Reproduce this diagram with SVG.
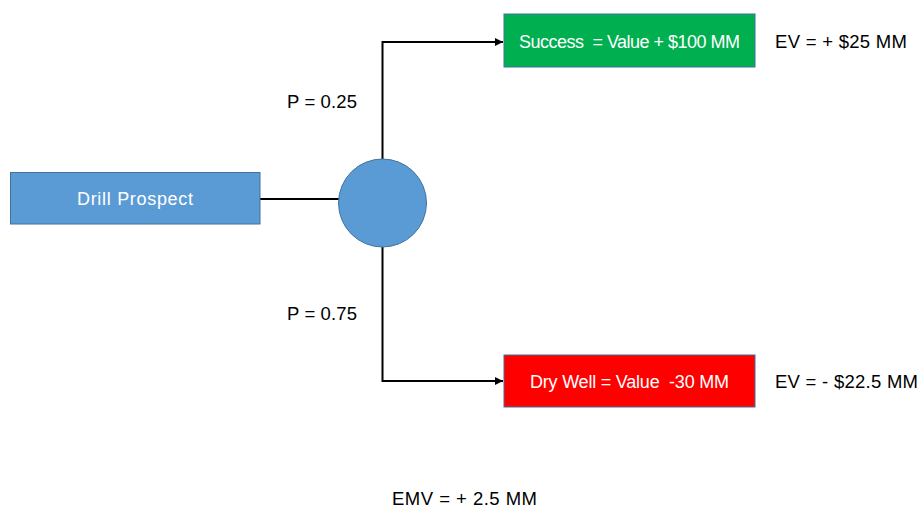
<svg xmlns="http://www.w3.org/2000/svg" width="923" height="509" viewBox="0 0 923 509">
  <style>
    text { font-family: "Liberation Sans", Arial, sans-serif; }
    .lbl { font-size: 18.5px; fill: #000; }
    .btxt { font-size: 18px; fill: #fff; }
    .conn { fill: none; stroke: #000; stroke-width: 2; }
    .box { stroke: #41719C; stroke-width: 1; }
  </style>
  <defs>
    <marker id="arr" viewBox="0 0 10 10" refX="10" refY="5" markerWidth="4" markerHeight="4" orient="auto" markerUnits="strokeWidth">
      <path d="M0,0 L10,5 L0,10 Z" fill="#000"/>
    </marker>
  </defs>
  <rect width="923" height="509" fill="#fff"/>
  <g id="connectors">
    <line class="conn" x1="260" y1="199" x2="339" y2="199"/>
    <polyline class="conn" points="382.5,159 382.5,42 503,42" marker-end="url(#arr)"/>
    <polyline class="conn" points="382.5,247 382.5,381 503,381" marker-end="url(#arr)"/>
  </g>
  <g id="drill">
    <rect class="box" x="10.5" y="172.5" width="249.5" height="51.5" fill="#5B9BD5"/>
    <text class="btxt" x="135" y="205" text-anchor="middle" textLength="116">Drill Prospect</text>
  </g>
  <g id="chance">
    <circle cx="382.5" cy="203" r="44" fill="#5B9BD5" stroke="#41719C" stroke-width="1"/>
  </g>
  <g id="success">
    <rect class="box" x="504" y="14" width="251" height="53" fill="#00B050"/>
    <text class="btxt" x="629.5" y="48" text-anchor="middle" textLength="221" xml:space="preserve">Success  = Value + $100 MM</text>
  </g>
  <g id="drywell">
    <rect class="box" x="504" y="355" width="251" height="52" fill="#FF0000"/>
    <text class="btxt" x="629.5" y="388" text-anchor="middle" textLength="199" xml:space="preserve">Dry Well = Value  -30 MM</text>
  </g>
  <g id="labels">
    <text class="lbl" x="287" y="108" textLength="70">P = 0.25</text>
    <text class="lbl" x="287" y="320" textLength="70">P = 0.75</text>
    <text class="lbl" x="775" y="48" textLength="132">EV = + $25 MM</text>
    <text class="lbl" x="775" y="388" textLength="143">EV = - $22.5 MM</text>
    <text class="lbl" x="392" y="505" textLength="145">EMV = + 2.5 MM</text>
  </g>
</svg>
